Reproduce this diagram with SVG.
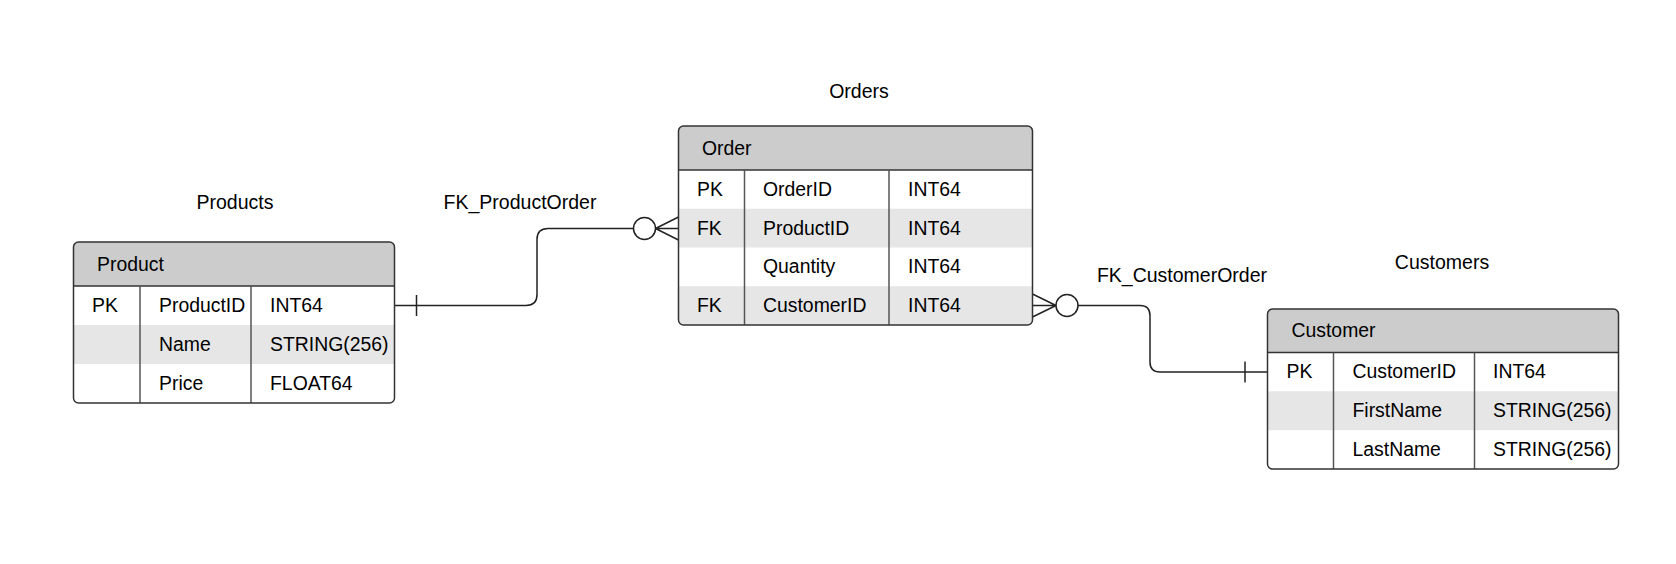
<svg xmlns="http://www.w3.org/2000/svg" width="1676" height="564" viewBox="0 0 1676 564">
<style>
text{font-family:"Liberation Sans",Arial,sans-serif;font-size:19.4px;fill:#000}
.lbl{text-anchor:middle;font-size:19.5px}
.hdr{fill:#cccccc}
.stripe{fill:#e6e6e6}
.frame{fill:none;stroke:#333;stroke-width:1.5}
.sep{stroke:#333;stroke-width:1.5}
.col{stroke:#555;stroke-width:1.5}
.conn{fill:none;stroke:#222;stroke-width:1.5}
.circ{fill:#fff;stroke:#222;stroke-width:1.5}
</style>
<defs>
<clipPath id="cpP"><rect x="73.5" y="242" width="321" height="161" rx="5"/></clipPath>
<clipPath id="cpO"><rect x="678.5" y="126" width="354" height="199" rx="5"/></clipPath>
<clipPath id="cpC"><rect x="1267.5" y="309" width="351" height="160" rx="5"/></clipPath>
</defs>
<rect width="1676" height="564" fill="#fff"/>

<g id="connectors">
<g id="fk-productorder">
<path class="conn" d="M394.5,305.5 H526 Q537,305.5 537,294.5 V239.5 Q537,228.5 548,228.5 H633.5"/>
<line class="conn" x1="416.5" y1="295" x2="416.5" y2="316"/>
<circle class="circ" cx="644.5" cy="228.5" r="11"/>
<path class="conn" d="M655.5,228.5 L678.5,217 M655.5,228.5 L678.5,228.5 M655.5,228.5 L678.5,240"/>
<text class="lbl" x="520" y="208.5">FK_ProductOrder</text>
</g>
<g id="fk-customerorder">
<path class="conn" d="M1078,305.5 H1140 Q1150,305.5 1150,315.5 V362 Q1150,372 1160,372 H1267.5"/>
<line class="conn" x1="1245" y1="361.5" x2="1245" y2="382.5"/>
<circle class="circ" cx="1067" cy="305.5" r="11"/>
<path class="conn" d="M1056,305.5 L1032.5,294 M1056,305.5 L1032.5,305.5 M1056,305.5 L1032.5,317"/>
<text class="lbl" x="1182" y="281.5">FK_CustomerOrder</text>
</g>
</g>

<g id="products">
<text class="lbl" x="235" y="209">Products</text>
<g clip-path="url(#cpP)">
<rect x="73.5" y="242" width="321" height="161" fill="#fff"/>
<rect class="hdr" x="73.5" y="242" width="321" height="44"/>
<rect class="stripe" x="73.5" y="325" width="321" height="39"/>
</g>
<line class="sep" x1="73.5" y1="286" x2="394.5" y2="286"/>
<line class="col" x1="140" y1="286" x2="140" y2="403"/>
<line class="col" x1="251" y1="286" x2="251" y2="403"/>
<rect class="frame" x="73.5" y="242" width="321" height="161" rx="5"/>
<text x="97" y="270.5">Product</text>
<text x="92" y="312">PK</text><text x="159" y="312">ProductID</text><text x="270" y="312">INT64</text>
<text x="159" y="351">Name</text><text x="270" y="351">STRING(256)</text>
<text x="159" y="390">Price</text><text x="270" y="390">FLOAT64</text>
</g>

<g id="orders">
<text class="lbl" x="859" y="97.5">Orders</text>
<g clip-path="url(#cpO)">
<rect x="678.5" y="126" width="354" height="199" fill="#fff"/>
<rect class="hdr" x="678.5" y="126" width="354" height="44"/>
<rect class="stripe" x="678.5" y="208.75" width="354" height="38.75"/>
<rect class="stripe" x="678.5" y="286.25" width="354" height="38.75"/>
</g>
<line class="sep" x1="678.5" y1="170" x2="1032.5" y2="170"/>
<line class="col" x1="744.5" y1="170" x2="744.5" y2="325"/>
<line class="col" x1="889" y1="170" x2="889" y2="325"/>
<rect class="frame" x="678.5" y="126" width="354" height="199" rx="5"/>
<text x="702" y="154.5">Order</text>
<text x="697" y="196">PK</text><text x="763" y="196">OrderID</text><text x="908" y="196">INT64</text>
<text x="697" y="234.6">FK</text><text x="763" y="234.6">ProductID</text><text x="908" y="234.6">INT64</text>
<text x="763" y="273.4">Quantity</text><text x="908" y="273.4">INT64</text>
<text x="697" y="312">FK</text><text x="763" y="312">CustomerID</text><text x="908" y="312">INT64</text>
</g>

<g id="customers">
<text class="lbl" x="1442" y="269">Customers</text>
<g clip-path="url(#cpC)">
<rect x="1267.5" y="309" width="351" height="160" fill="#fff"/>
<rect class="hdr" x="1267.5" y="309" width="351" height="43.5"/>
<rect class="stripe" x="1267.5" y="391.3" width="351" height="38.9"/>
</g>
<line class="sep" x1="1267.5" y1="352.5" x2="1618.5" y2="352.5"/>
<line class="col" x1="1333.5" y1="352.5" x2="1333.5" y2="469"/>
<line class="col" x1="1474.5" y1="352.5" x2="1474.5" y2="469"/>
<rect class="frame" x="1267.5" y="309" width="351" height="160" rx="5"/>
<text x="1291.5" y="337.2">Customer</text>
<text x="1286.5" y="378.4">PK</text><text x="1352.5" y="378.4">CustomerID</text><text x="1493" y="378.4">INT64</text>
<text x="1352.5" y="417.3">FirstName</text><text x="1493" y="417.3">STRING(256)</text>
<text x="1352.5" y="456">LastName</text><text x="1493" y="456">STRING(256)</text>
</g>
</svg>
